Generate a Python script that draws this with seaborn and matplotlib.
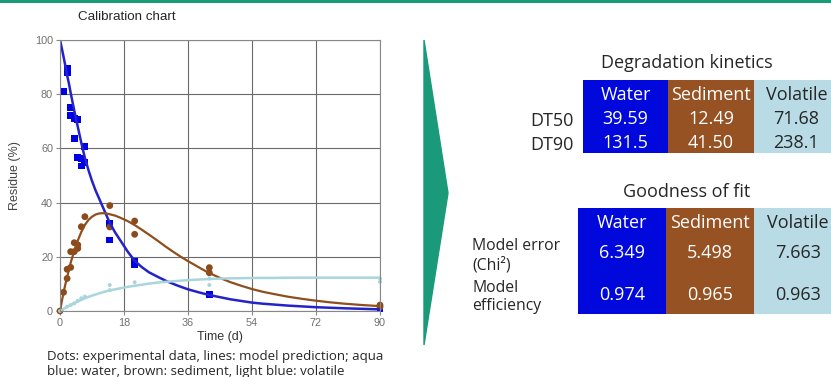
import numpy as np
import seaborn as sns
import matplotlib.pyplot as plt
from matplotlib.colors import ListedColormap
from matplotlib.patches import Polygon
from matplotlib.transforms import ScaledTranslation

water_t = [1, 2, 2, 3, 3, 4, 4, 5, 5, 6, 6, 7, 7, 14, 14, 21, 21, 42, 90]
water_y = [81, 89.5, 88, 75.2, 72, 71.1, 63.7, 70.8, 56.7, 56.3, 53.5, 54.7, 60.6, 32.3, 26.2, 18.2, 17.3, 6.2, 0.8]

sed_t = [0, 1, 2, 2, 3, 3, 4, 4, 5, 5, 6, 7, 14, 14, 21, 21, 42, 42, 90, 90]
sed_y = [0, 6.9, 12, 15.4, 16.1, 21.9, 21.9, 25.2, 23.1, 24.4, 31.1, 34.8, 38.9, 31, 33.2, 28.3, 16, 14.1, 2.2, 1.5]

vol_t = [0, 2, 3, 4, 5, 6, 7, 14, 14, 21, 42, 42, 90, 90]
vol_y = [0, 1.6, 2.2, 2.8, 3.8, 4.7, 5.3, 9.6, 7.7, 10.6, 9.6, 12, 12, 10.8]

# model prediction curves
water_mt = [0, 0.5, 1, 1.5, 2, 2.5, 3, 4, 5, 6, 7, 8, 9, 10, 11, 12, 13, 14, 15.5, 17, 19, 21, 23, 25,
            27.5, 30, 33, 36, 39, 42, 45, 48, 51, 54, 57, 60, 64, 68, 72, 76, 80, 85, 90]
water_my = [100, 97, 93.8, 90.5, 87, 84, 80.5, 74, 68, 62, 56.5, 52, 48, 44.5, 41.5, 38.5, 35.5, 32.5, 29, 26,
            22, 18.5, 16.2, 14.3, 12.6, 11, 9.4, 8, 6.9, 5.9, 5.1, 4.3, 3.7, 3.1, 2.7, 2.4, 2.0, 1.7, 1.4,
            1.2, 1.0, 0.8, 0.6]

sed_mt = [0, 0.5, 1, 1.5, 2, 3, 4, 5, 6, 7, 8, 9, 10, 11, 12, 13, 14, 15.5, 17, 19, 21, 23, 25, 27.5, 30,
          32, 34, 36, 38, 40, 42, 45, 48, 51, 54, 57, 60, 64, 68, 72, 76, 80, 85, 90]
sed_my = [0, 3.5, 6.8, 9.8, 12.5, 17.8, 22.2, 26, 29.2, 31.8, 33.6, 34.8, 35.6, 36, 36.1, 36, 35.7, 35.2,
          34.4, 33.2, 31.7, 30, 28.2, 25.9, 23.5, 21.7, 20, 18.4, 16.9, 15.4, 14, 12.2, 10.6, 9.3, 8.1,
          7.1, 6.3, 5.3, 4.5, 3.8, 3.2, 2.7, 2.2, 1.8]

vol_mt = [0, 1, 2, 3, 4, 5, 6, 7, 8, 9.5, 11, 12.5, 14, 15.5, 17, 19, 21, 23, 25, 27.5, 30, 33, 36, 39,
          42, 46, 50, 55, 60, 65, 70, 75, 80, 85, 90]
vol_my = [0, 0.8, 1.5, 2.2, 2.9, 3.5, 4.1, 4.7, 5.2, 5.9, 6.5, 7.1, 7.6, 8.0, 8.4, 8.9, 9.3, 9.7, 10.1,
          10.5, 10.8, 11.1, 11.4, 11.6, 11.8, 12.0, 12.1, 12.2, 12.2, 12.3, 12.3, 12.3, 12.3, 12.3, 12.3]

x_ticks = [0, 18, 36, 54, 72, 90]
y_ticks = [0, 20, 40, 60, 80, 100]

# tables
compartments = ['Water', 'Sediment', 'Volatile']
comp_colors = ['#0008dc', '#975223', '#b9dbe6']
deg_rows = ['DT50', 'DT90']
deg_vals = [['39.59', '12.49', '71.68'], ['131.5', '41.50', '238.1']]
fit_rows = ['Model error\n(Chi²)', 'Model\nefficiency']
fit_vals = [['6.349', '5.498', '7.663'], ['0.974', '0.965', '0.963']]

sns.set_style('white')
plt.rcParams['font.family'] = ['Open Sans', 'DejaVu Sans']

W, H = 831, 377
fig = plt.figure(figsize=(W / 100, H / 100), dpi=100)


def px_axes(x0, y0, x1, y1):
    return fig.add_axes([x0 / W, 1 - y1 / H, (x1 - x0) / W, (y1 - y0) / H])


# ---- calibration chart ----
arial = ['Liberation Sans', 'DejaVu Sans']
ax = px_axes(60, 40, 380, 311)
sns.lineplot(x=water_mt, y=water_my, color='#2323c8', lw=1.8, ax=ax)
sns.lineplot(x=sed_mt, y=sed_my, color='#8e4f1c', lw=1.6, ax=ax)
sns.lineplot(x=vol_mt, y=vol_my, color='#a9d6dc', lw=1.8, ax=ax)
sns.scatterplot(x=water_t, y=water_y, marker='s', s=24, color='#0000e6', edgecolor='none', ax=ax, clip_on=False)
sns.scatterplot(x=sed_t, y=sed_y, marker='o', s=24, color='#8b4a1c', edgecolor='none', ax=ax, clip_on=False)
sns.scatterplot(x=vol_t, y=vol_y, marker='o', s=8, color='#a8d4dc', edgecolor='none', ax=ax, clip_on=False)
ax.set_xlim(0, 90)
ax.set_ylim(0, 100)
ax.set_xticks(x_ticks)
ax.set_yticks(y_ticks)
ax.grid(True, color='#6a6a6a', lw=0.8)
for s in ax.spines.values():
    s.set_color('#888888')
    s.set_linewidth(0.8)
ax.tick_params(labelsize=7.8, labelcolor='#707070', color='#888888', length=3, width=0.8,
               direction='out', left=True, bottom=True, pad=2)
ax.set_xlabel('Time (d)', fontsize=9, color='#333333', labelpad=2, family=arial)
ax.set_ylabel('Residue (%)', fontsize=9, color='#444444', labelpad=10, family=arial)
for lab in ax.get_xticklabels() + ax.get_yticklabels():
    lab.set_family(arial)

fig.text(127 / W, 1 - 17 / H, 'Calibration chart', ha='center', va='center', fontsize=9.6,
         family=arial)
fig.text(47 / W, 1 - 364 / H,
         'Dots: experimental data, lines: model prediction; aqua\nblue: water, brown: sediment, light blue: volatile',
         ha='left', va='center', fontsize=9.5, linespacing=1.25)

# ---- decoration: top rule and arrow ----
fig.add_artist(plt.Line2D([0, 1], [1 - 1 / H, 1 - 1 / H], color='#1a9a7a', lw=2.2))
fig.add_artist(Polygon([[424 / W, 1 - 40 / H], [448 / W, 1 - 193 / H], [424 / W, 1 - 345 / H]],
                       closed=True, color='#1a9a7a', transform=fig.transFigure))

cmap = ListedColormap(comp_colors)


def draw_table(title, tx, ty, head_box, body_box, rows, vals, left_labels, nudge, label_nudge):
    down = ScaledTranslation(0, -nudge / 100, fig.dpi_scale_trans)
    hax = px_axes(*head_box)
    sns.heatmap(np.array([[0, 1, 2]]), cmap=cmap, vmin=0, vmax=2, cbar=False,
                annot=np.array([compartments]), fmt='', annot_kws={'size': 13},
                xticklabels=False, yticklabels=False, ax=hax)
    bax = px_axes(*body_box)
    sns.heatmap(np.tile([0, 1, 2], (len(rows), 1)), cmap=cmap, vmin=0, vmax=2, cbar=False,
                annot=np.array(vals), fmt='', annot_kws={'size': 13},
                xticklabels=False, yticklabels=False, ax=bax)
    for t in hax.texts:
        t.set_transform(t.get_transform() + ScaledTranslation(0, -2.5 / 100, fig.dpi_scale_trans))
    for t in bax.texts:
        t.set_transform(t.get_transform() + down)
    row_h = (body_box[3] - body_box[1]) / len(rows)
    bax.set_yticks(np.arange(len(rows)) + 0.5 + label_nudge / row_h, labels=rows)
    bax.tick_params(axis='y', length=0, rotation=0, left=False)
    for lab in bax.get_yticklabels():
        if left_labels:
            lab.set_horizontalalignment('left')
            lab.set_fontsize(11.3)
            lab.set_linespacing(1.2)
        else:
            lab.set_fontsize(13)
    if left_labels:
        bax.tick_params(axis='y', pad=(body_box[0] - 472) * 0.72)
    else:
        bax.tick_params(axis='y', pad=7)
    fig.text(tx / W, 1 - ty / H, title, ha='center', va='center', fontsize=13)


draw_table('Degradation kinetics', 687, 63, (583, 80, 839, 104), (583, 104, 839, 153),
           deg_rows, deg_vals, False, 2.5, 2.5)
draw_table('Goodness of fit', 687, 192, (578, 208, 842, 234), (578, 232, 842, 314),
           fit_rows, fit_vals, True, 1, 0)

fig.savefig('out.png', dpi=100)
